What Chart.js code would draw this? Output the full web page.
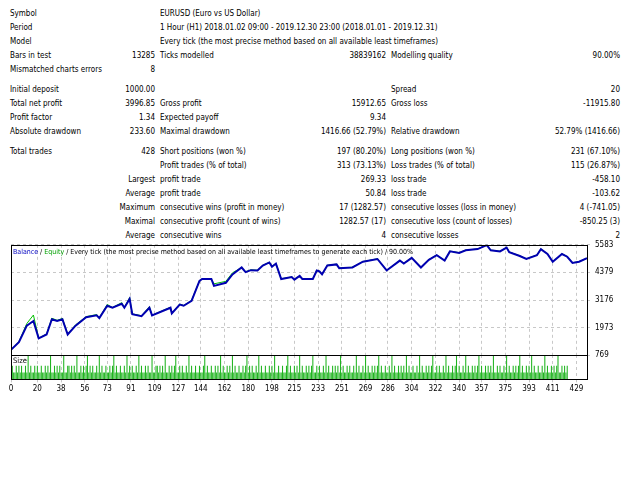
<!DOCTYPE html>
<html>
<head>
<meta charset="utf-8">
<script src="https://cdn.jsdelivr.net/npm/chart.js@4.4.0/dist/chart.umd.min.js"></script>
<style>
  body { margin: 0; background: #fff; width: 640px; height: 480px; overflow: hidden; position: relative;
         font-family: "DejaVu Sans Condensed", "DejaVu Sans", sans-serif; font-size: 8px; color: #000; }
  .t { position: absolute; white-space: nowrap; line-height: 12px; }
  .r { text-align: right; }
  #main { position: absolute; left: 0; top: 235px; }
  #size { position: absolute; left: 0; top: 352px; }
  #legend { position: absolute; left: 13px; top: 248px; font-size: 7px; white-space: nowrap; }
  #sizeLabel { position: absolute; left: 13px; top: 356px; font-size: 7.5px; }
</style>
</head>
<body>
<div id="report"></div>
<canvas id="main" width="640" height="130"></canvas>
<canvas id="size" width="640" height="44"></canvas>
<div id="legend"><span style="color:#0000c0">Balance</span> / <span style="color:#00a000">Equity</span> / Every tick (the most precise method based on all available least timeframes to generate each tick) / 90.00%</div>
<div id="sizeLabel">Size</div>
<script>
// Report rows: [y, label1, value1, label2, value2, label3, value3]
const reportRows = [
    [8,   'Symbol', '', 'EURUSD (Euro vs US Dollar)', '', '', ''],
    [22,  'Period', '', '1 Hour (H1) 2018.01.02 09:00 - 2019.12.30 23:00 (2018.01.01 - 2019.12.31)', '', '', ''],
    [36,  'Model', '', 'Every tick (the most precise method based on all available least timeframes)', '', '', ''],
    [50,  'Bars in test', '13285', 'Ticks modelled', '38839162', 'Modelling quality', '90.00%'],
    [64,  'Mismatched charts errors', '8', '', '', '', ''],
    [84,  'Initial deposit', '1000.00', '', '', 'Spread', '20'],
    [98,  'Total net profit', '3996.85', 'Gross profit', '15912.65', 'Gross loss', '-11915.80'],
    [112, 'Profit factor', '1.34', 'Expected payoff', '9.34', '', ''],
    [126, 'Absolute drawdown', '233.60', 'Maximal drawdown', '1416.66 (52.79%)', 'Relative drawdown', '52.79% (1416.66)'],
    [146, 'Total trades', '428', 'Short positions (won %)', '197 (80.20%)', 'Long positions (won %)', '231 (67.10%)'],
    [160, '', '', 'Profit trades (% of total)', '313 (73.13%)', 'Loss trades (% of total)', '115 (26.87%)'],
    [174, '', 'Largest', 'profit trade', '269.33', 'loss trade', '-458.10'],
    [188, '', 'Average', 'profit trade', '50.84', 'loss trade', '-103.62'],
    [202, '', 'Maximum', 'consecutive wins (profit in money)', '17 (1282.57)', 'consecutive losses (loss in money)', '4 (-741.05)'],
    [216, '', 'Maximal', 'consecutive profit (count of wins)', '1282.57 (17)', 'consecutive loss (count of losses)', '-850.25 (3)'],
    [230, '', 'Average', 'consecutive wins', '4', 'consecutive losses', '2']
];

// Balance curve: trade number and balance
const tradeIdx = [0, 6, 12, 17, 21, 27, 31, 35, 39, 43, 49, 57, 65, 67, 73, 77, 84, 86, 90, 92, 99, 105, 107, 121, 122, 128, 131, 137, 143, 145, 152, 154, 163, 168, 175, 178, 182, 187, 191, 196, 198, 201, 205, 213, 215, 219, 221, 229, 232, 234, 236, 240, 247, 249, 259, 267, 278, 285, 295, 298, 304, 311, 317, 323, 329, 333, 340, 345, 354, 361, 364, 371, 376, 378, 386, 391, 399, 402, 407, 411, 418, 422, 426, 431, 437];
const balance = [1000, 1335, 2057, 2258, 1506, 1671, 2338, 2258, 2338, 1671, 2057, 2423, 2508, 2388, 2924, 2839, 3010, 2839, 3225, 2558, 2473, 2839, 2508, 2839, 2588, 2975, 2924, 3140, 4012, 4092, 4092, 3791, 3927, 4293, 4594, 4394, 4478, 4463, 4679, 4813, 4628, 4764, 4092, 4177, 4063, 4228, 4092, 4092, 4463, 4428, 4293, 4679, 4729, 4563, 4594, 4845, 4964, 4463, 4895, 4764, 5014, 4594, 4930, 5130, 4895, 5296, 5230, 5345, 5396, 5566, 5345, 5296, 5463, 5263, 5095, 4964, 5130, 5396, 5180, 4845, 5180, 5063, 4795, 4845, 4996];
const equity = [1000, 1360, 2150, 2520, 1506, 1700, 2380, 2290, 2370, 1690, 2090, 2450, 2540, 2400, 2980, 2850, 3060, 2850, 3280, 2570, 2490, 2880, 2515, 2860, 2595, 3000, 2935, 3160, 4012, 4092, 4092, 3880, 3990, 4360, 4594, 4410, 4490, 4472, 4690, 4822, 4640, 4772, 4100, 4185, 4072, 4235, 4098, 4100, 4472, 4435, 4300, 4690, 4740, 4572, 4605, 4852, 4975, 4472, 4905, 4772, 5025, 4602, 4940, 5140, 4902, 5306, 5240, 5352, 5402, 5572, 5352, 5302, 5472, 5272, 5102, 4972, 5140, 5406, 5190, 4852, 5190, 5072, 4802, 4852, 4996];

// Lot size per trade (relative levels 1..4)
const sizeLevels =
    '211212121121412112121121121214112121211411221212141121212412121121412112112' +
    '124121121121412121121412112121141122121214112121241121211214121121121124121' +
    '121121214121121214121121121241212112141211211212141121121124121121214121121' +
    '212411212112141211212121412112121121412112141211212124121121121412112121214' +
    '121121121412112121241121211214121121241211214121121212412112121214112121121' +
    '41211212124121121214121121121412112121241121212';

const yTicks = [769, 1973, 3176, 4379, 5583];
const xTicks = [0, 20, 38, 56, 73, 91, 109, 127, 144, 162, 180, 198, 215, 233, 251, 269, 286, 304, 322, 340, 357, 375, 393, 411, 429];

// Build the report text
const report = document.getElementById('report');
function addText(text, left, top, right) {

    if (!text) return;
    const el = document.createElement('div');
    el.className = 't' + (right ? ' r' : '');
    el.textContent = text;
    el.style.top = top + 'px';
    if (right) { el.style.right = (640 - left) + 'px'; }
    else { el.style.left = left + 'px'; }
    report.appendChild(el);
}
reportRows.forEach(row => {

    addText(row[1], 10, row[0], false);
    addText(row[2], 155, row[0], true);
    addText(row[3], 160, row[0], false);
    addText(row[4], 386, row[0], true);
    addText(row[5], 391, row[0], false);
    addText(row[6], 620, row[0], true);
});

// Frame around the plot area
const framePlugin = {
    id: 'frame',
    afterDraw(chart) {

        const a = chart.chartArea;
        const ctx = chart.ctx;
        ctx.save();
        ctx.strokeStyle = '#000';
        ctx.lineWidth = 1;
        ctx.strokeRect(Math.round(a.left) + 0.5, Math.round(a.top) + 0.5, Math.round(a.width), Math.round(a.height));
        ctx.restore();
    }
};

const tickFont = { family: 'DejaVu Sans Condensed', size: 8 };

new Chart(document.getElementById('main'), {

    type: 'line',
    data: {
        datasets: [
            {
                label: 'Balance',
                data: tradeIdx.map((t, i) => ({ x: t, y: balance[i] })),
                borderColor: '#0000b0',
                borderWidth: 2,
                pointRadius: 0,
                tension: 0
            },
            {
                label: 'Equity',
                data: tradeIdx.map((t, i) => ({ x: t, y: equity[i] })),
                borderColor: '#00c000',
                borderWidth: 1,
                pointRadius: 0,
                tension: 0
            }
        ]
    },
    options: {
        responsive: false,
        animation: false,
        layout: { padding: { left: 11, top: 0, bottom: 0, right: 0 } },
        plugins: { legend: { display: false }, tooltip: { enabled: false } },
        scales: {
            x: {
                type: 'linear', min: 0, max: 437,
                afterBuildTicks: s => { s.ticks = xTicks.map(v => ({ value: v })); },
                afterFit: s => { s.height = 0; },
                ticks: { display: false },
                grid: { color: '#c8c8c8', drawTicks: false },
                border: { display: false, dash: [3, 3] }
            },
            y: {
                position: 'right', min: 769, max: 5583,
                afterBuildTicks: s => { s.ticks = yTicks.map(v => ({ value: v })); },
                afterFit: s => { s.width = 53; },
                ticks: { color: '#000', font: tickFont, padding: 5, callback: v => String(v) },
                grid: { color: '#c8c8c8', drawTicks: true, tickLength: 3 },
                border: { display: false, dash: [3, 3] }
            }
        }
    },
    plugins: [framePlugin]
});

const sizeValues = sizeLevels.split('').slice(0, 437).map(Number);

new Chart(document.getElementById('size'), {

    type: 'bar',
    data: {
        datasets: [{
            data: sizeValues.map((v, i) => ({ x: i + 1, y: v })),
            backgroundColor: '#1fb41f',
            barPercentage: 1,
            categoryPercentage: 0.8
        }]
    },
    options: {
        responsive: false,
        animation: false,
        layout: { padding: { left: 11, top: 3, bottom: 0, right: 53 } },
        plugins: { legend: { display: false }, tooltip: { enabled: false } },
        scales: {
            x: {
                type: 'linear', min: 0, max: 437, offset: false,
                afterBuildTicks: s => { s.ticks = xTicks.map(v => ({ value: v })); },
                ticks: { color: '#000', font: tickFont, maxRotation: 0, autoSkip: false, padding: 2 },
                grid: { color: '#c8c8c8', drawTicks: true, tickLength: 3, offset: false },
                border: { display: false, dash: [3, 3] }
            },
            y: { display: false, min: 0, max: 3.6 }
        }
    },
    plugins: [framePlugin]
});
</script>
</body>
</html>
